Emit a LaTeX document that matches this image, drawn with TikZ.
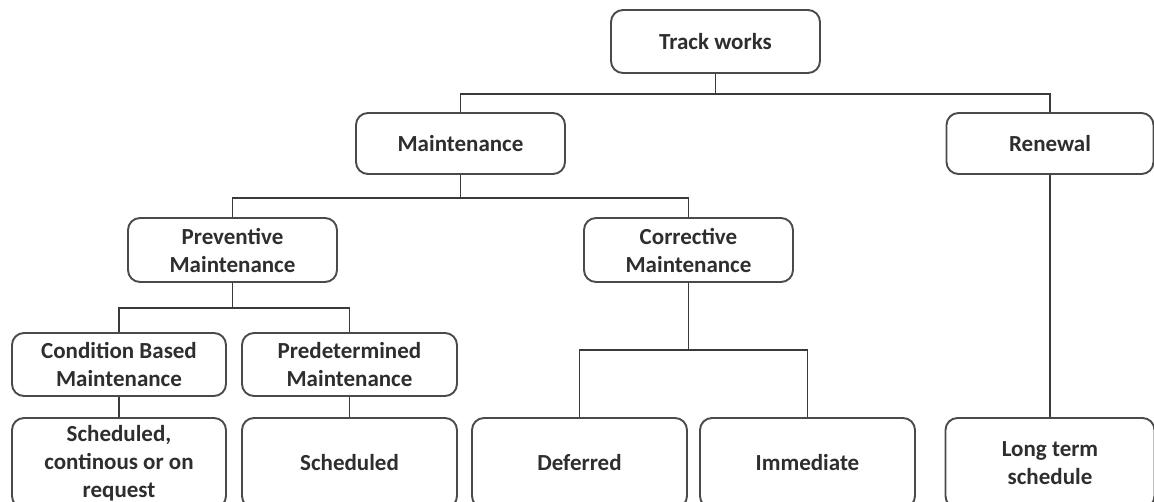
\documentclass[tikz,border=0pt]{standalone}
\usepackage{fontspec}
\setmainfont{Carlito}
\usetikzlibrary{calc}
\definecolor{boxline}{HTML}{4A4A4A}
\definecolor{wire}{HTML}{3A3A3A}
\definecolor{label}{HTML}{2E2E2E}
\begin{document}
\begin{tikzpicture}[x=1pt,y=-1pt,
  box/.style={draw=boxline, line width=1.9pt, rounded corners=12pt, fill=white,
    inner sep=0pt, align=center, text=label,
    font=\fontsize{23}{28}\selectfont\bfseries},
  wirestyle/.style={draw=wire, line width=1.9pt}]
\useasboundingbox (0,0) rectangle (1154,501);
\clip (0,0) rectangle (1154,501);

% top level
\node[box, minimum width=209pt, minimum height=63pt] (track) at (715.5,41.5) {Track works};

% second level
\node[box, minimum width=209pt, minimum height=61pt] (maint) at (460.5,143.5) {Maintenance};
\node[box, minimum width=207pt, minimum height=61pt] (renew) at (1050,143.5) {Renewal};

% third level
\node[box, minimum width=209pt, minimum height=64pt] (prev) at (232.5,250) {Preventive\\Maintenance};
\node[box, minimum width=209pt, minimum height=64pt] (corr) at (688.5,250) {Corrective\\Maintenance};

% fourth level
\node[box, minimum width=214pt, minimum height=63pt] (cond) at (119,364.5) {Condition Based\\Maintenance};
\node[box, minimum width=215pt, minimum height=63pt] (pred) at (349.5,364.5) {Predetermined\\Maintenance};

% leaves
\node[box, minimum width=214pt, minimum height=90pt] (sch1) at (119,463) {Scheduled,\\continous or on\\request};
\node[box, minimum width=215pt, minimum height=90pt] (sch2) at (349.5,463) {Scheduled};
\node[box, minimum width=215pt, minimum height=90pt] (def) at (579.5,463) {Deferred};
\node[box, minimum width=215pt, minimum height=90pt] (imm) at (807.5,463) {Immediate};
\node[box, minimum width=209pt, minimum height=90pt] (long) at (1050,463) {Long term\\schedule};

% bus points
\coordinate (b1) at (track.south |- 0,94);
\coordinate (b2) at (maint.south |- 0,198);
\coordinate (b3) at (prev.south |- 0,308);
\coordinate (b4) at (corr.south |- 0,350);

% connectors
\draw[wirestyle] (track.south) -- (b1);
\draw[wirestyle] (maint.north) |- (b1) -| (renew.north);
\draw[wirestyle] (maint.south) -- (b2);
\draw[wirestyle] (prev.north) |- (b2) -| (corr.north);
\draw[wirestyle] (prev.south) -- (b3);
\draw[wirestyle] (cond.north) |- (b3) -| (pred.north);
\draw[wirestyle] (corr.south) -- (b4);
\draw[wirestyle] (def.north) |- (b4) -| (imm.north);
\draw[wirestyle] (cond.south) -- (sch1.north);
\draw[wirestyle] (pred.south) -- (sch2.north);
\draw[wirestyle] (renew.south) -- (long.north);
\end{tikzpicture}
\end{document}
